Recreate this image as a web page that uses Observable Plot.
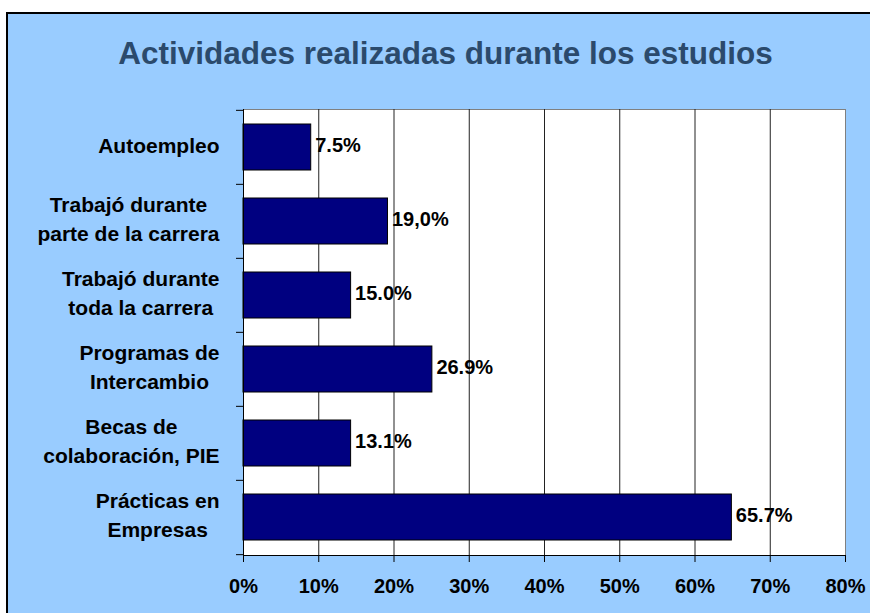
<!DOCTYPE html>
<html>
<head>
<meta charset="utf-8">
<script src="https://cdn.jsdelivr.net/npm/d3@7"></script>
<script src="https://cdn.jsdelivr.net/npm/@observablehq/plot@0.6"></script>
<style>
  html, body { margin: 0; padding: 0; background: #fff; }
  #wrap { position: relative; width: 870px; height: 613px; overflow: hidden; }
  #bg { position: absolute; left: 6px; top: 12px; width: 864px; height: 601px; background: #99CCFF;
        border-left: 2px solid #000; border-top: 2px solid #000; box-sizing: border-box; }
  #title { position: absolute; left: 14px; top: 33px; width: 863px; text-align: center;
           font: bold 31.5px "Liberation Sans", Arial, sans-serif; color: #2B4A6C; line-height: 40px; }
  #chart { position: absolute; left: 0; top: 0; }
</style>
</head>
<body>
<div id="wrap">
  <div id="bg"></div>
  <div id="title">Actividades realizadas durante los estudios</div>
  <div id="chart"></div>
</div>
<script>
const categories = [
  "Autoempleo",
  "Trabajó durante\nparte de la carrera",
  "Trabajó durante\ntoda la carrera",
  "Programas de\nIntercambio",
  "Becas de\ncolaboración, PIE",
  "Prácticas en\nEmpresas"
];
const values = [9.0, 19.2, 14.3, 25.1, 14.3, 64.9];
const labels = ["7.5%", "19,0%", "15.0%", "26.9%", "13.1%", "65.7%"];
const xTicks = [0, 10, 20, 30, 40, 50, 60, 70, 80];

const data = categories.map((c, i) => ({cat: c, value: values[i], label: labels[i]}));
const font = "'Liberation Sans', Arial, sans-serif";
const half = (613 - 58 - 109) / categories.length / 2;

const chart = Plot.plot({
  width: 870,
  height: 613,
  marginLeft: 243,
  marginRight: 25,
  marginTop: 109,
  marginBottom: 58,
  style: {background: "transparent", fontFamily: font, fontSize: "20px", fontWeight: "bold", color: "#000"},
  x: {domain: [0, 80], label: null},
  y: {domain: categories, padding: 0, label: null},
  marks: [
    Plot.frame({fill: "#fff", stroke: "#808080"}),
    Plot.gridX(xTicks.slice(1, -1), {stroke: "#222", strokeOpacity: 1}),
    Plot.barX(data, {x: "value", y: "cat", fill: "#000080", stroke: "#000", strokeWidth: 1, insetTop: 14, insetBottom: 14}),
    Plot.text(data, {x: "value", y: "cat", text: "label", textAnchor: "start", dx: 4, dy: -2, fontSize: 20, fontWeight: "bold", fill: "#000"}),
    Plot.ruleX([0], {stroke: "#000"}),
    Plot.frame({anchor: "bottom", stroke: "#000"}),
    Plot.ruleY(categories, {y: d => d, x1: 0, x2: 0, insetLeft: -7, dy: -half, stroke: "#000"}),
    Plot.ruleY(categories.slice(-1), {y: d => d, x1: 0, x2: 0, insetLeft: -7, dy: half, stroke: "#000"}),
    Plot.axisX({ticks: xTicks, tickFormat: d => d + "%", tickSize: 7, tickPadding: 16, fontSize: 20, fontWeight: "bold", label: null}),
    Plot.axisY({tickSize: 0, tickPadding: 24, lineHeight: 1.36, dy: -4, fontSize: 21, fontWeight: "bold", label: null})
  ]
});
document.getElementById("chart").append(chart);

// center each multi-line y tick label block, keeping its right edge fixed
chart.querySelectorAll('g[aria-label="y-axis tick label"] text').forEach(t => {
  const spans = t.querySelectorAll("tspan");
  let w = 0;
  if (spans.length) spans.forEach(s => { w = Math.max(w, s.getComputedTextLength()); });
  else w = t.getComputedTextLength();
  t.setAttribute("text-anchor", "middle");
  const tr = t.getAttribute("transform") || "";
  t.setAttribute("transform", `translate(${-w / 2},0) ${tr}`);
});
</script>
</body>
</html>
